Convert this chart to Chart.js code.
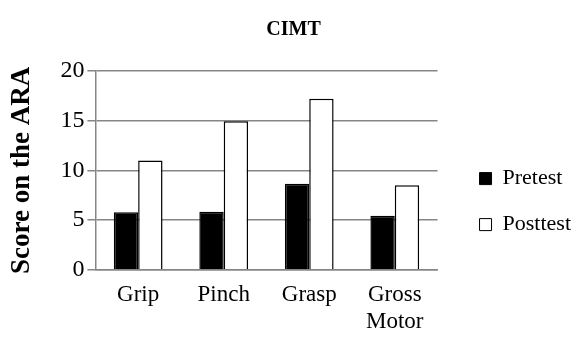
<!DOCTYPE html>
<html>
<head>
<meta charset="utf-8">
<script src="https://cdn.jsdelivr.net/npm/chart.js@4.4.1/dist/chart.umd.min.js"></script>
<style>
  html, body { margin: 0; padding: 0; background: #fff; }
  #wrap { width: 584px; height: 343px; }
</style>
</head>
<body>
<div id="wrap"><canvas id="cimtChart"></canvas></div>
<script>
// Data
const categories = ['Grip', 'Pinch', 'Grasp', ['Gross', 'Motor']];
const pretest = [5.8, 5.85, 8.65, 5.45];
const posttest = [11.0, 14.95, 17.2, 8.5];

const yMin = 0;
const yMax = 20;
const yStep = 5;

const serif = '"Liberation Serif", "Times New Roman", serif';
const gridGrey = '#868686';

new Chart(document.getElementById('cimtChart'), {
  type: 'bar',
  data: {
    labels: categories,
    datasets: [{
      label: 'Pretest',
      data: pretest,
      backgroundColor: '#000',
      borderColor: '#000',
      borderWidth: 1.5
    }, {
      label: 'Posttest',
      data: posttest,
      backgroundColor: '#fff',
      borderColor: '#000',
      borderWidth: 1.5
    }]
  },
  options: {
    responsive: true,
    maintainAspectRatio: false,
    animation: false,
    layout: { padding: { left: 6, right: 3, top: 0, bottom: 4 } },
    datasets: {
      bar: { categoryPercentage: 0.57, barPercentage: 1.0 }
    },
    plugins: {
      title: {
        display: true,
        text: 'CIMT',
        font: { family: serif, size: 20, weight: 'bold' },
        color: '#000',
        padding: { top: 18, bottom: 29 }
      },
      legend: {
        position: 'right',
        fullSize: false,
        maxWidth: 200,
        title: { display: true, text: ' ', font: { size: 2 }, padding: { top: 60, bottom: 0 } },
        labels: {
          font: { family: serif, size: 22 },
          color: '#000',
          boxWidth: 12,
          boxHeight: 12,
          padding: 24,
          generateLabels: (chart) => chart.data.datasets.map((ds, i) => ({
            text: ds.label,
            fillStyle: ds.backgroundColor,
            strokeStyle: '#000',
            fontColor: '#000',
            lineWidth: 1,
            datasetIndex: i
          }))
        }
      },
      tooltip: { enabled: false }
    },
    scales: {
      x: {
        grid: { display: false },
        border: { display: true, color: gridGrey, width: 1.5 },
        ticks: {
          font: { family: serif, size: 23 },
          color: '#000',
          maxRotation: 0,
          autoSkip: false,
          padding: 3
        }
      },
      y: {
        min: yMin,
        max: yMax,
        ticks: {
          stepSize: yStep,
          font: { family: serif, size: 24 },
          color: '#000',
          padding: 3
        },
        grid: { color: gridGrey, lineWidth: 1.5, tickLength: 8, drawTicks: true },
        border: { display: true, color: gridGrey, width: 1.5 },
        title: {
          display: true,
          text: 'Score on the ARA',
          font: { family: serif, size: 27, weight: 'bold' },
          color: '#000',
          padding: { top: 0, bottom: 19 }
        }
      },
      gap: {
        position: 'right',
        display: true,
        grid: { display: false },
        border: { display: false },
        ticks: { display: false },
        afterFit: (scale) => { scale.width = 18; }
      }
    }
  }
});
</script>
</body>
</html>
